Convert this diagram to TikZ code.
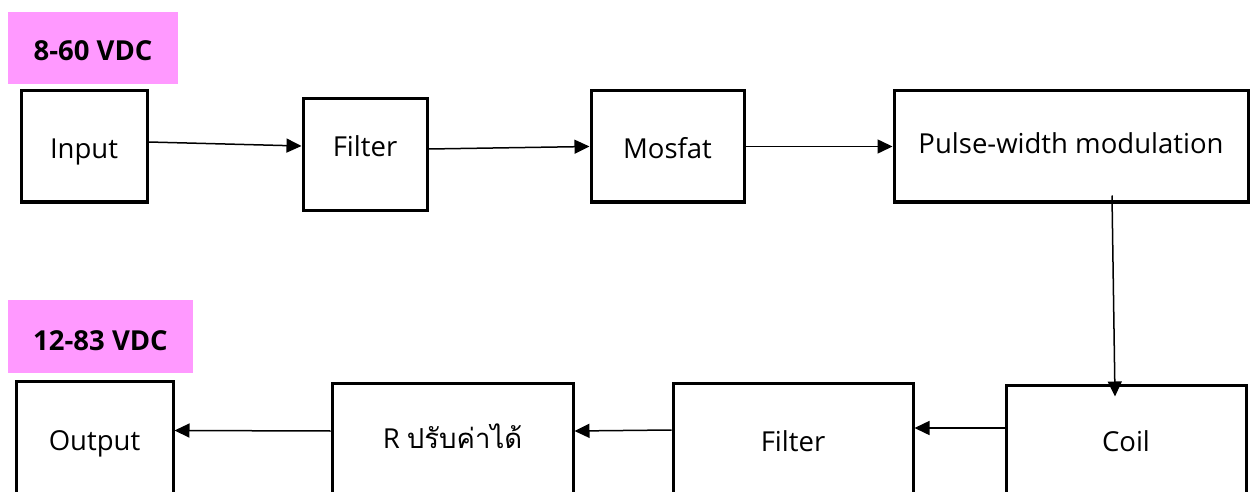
\documentclass[tikz,border=0pt]{standalone}
\usepackage{fontspec}
\setmainfont{Open Sans}
\newfontfamily\thaifont[Script=Thai]{Loma}
\usetikzlibrary{arrows.meta,calc}
\definecolor{pinkfill}{HTML}{FF99FF}
\tikzset{
  block/.style={draw=black, line width=3pt, inner sep=0pt, align=center,
    font=\fontsize{27.5}{30}\selectfont, text depth=0pt},
  volt/.style={fill=pinkfill, inner sep=0pt, text depth=0pt,
    font=\bfseries\fontsize{27.5}{30}\selectfont},
  base/.style={text height=#1},
  flow/.style={line width=1.5pt, -{Triangle[length=15pt,width=14pt]}}
}
\begin{document}
\begin{tikzpicture}[x=1pt,y=-1pt]
\useasboundingbox (0,0) rectangle (1251,492);
\clip (0,0) rectangle (1251,492);
\node[volt, base=26pt, minimum width=170pt, minimum height=72pt] (v1) at (93,48) {8-60 VDC};
\node[volt, base=27pt, minimum width=185pt, minimum height=73pt] (v2) at (100.5,336.5) {12-83 VDC};
\node[block, base=25pt, minimum width=126pt, minimum height=111pt] (in) at (84,146.5) {Input};
\node[block, base=5pt, minimum width=124pt, minimum height=111pt] (f1) at (365,154.5) {Filter};
\node[block, base=25pt, minimum width=153pt, minimum height=111pt] (mos) at (667.5,146.5) {Mosfat};
\node[block, base=15pt, minimum width=354pt, minimum height=111pt] (pwm) at (1071,146.5) {Pulse-width modulation};
\node[block, base=20pt, minimum width=157pt, minimum height=118pt] (out) at (94.5,440) {Output};
\node[block, base=14pt, minimum width=241pt, minimum height=116pt] (r) at (452.5,441) {R {\thaifont ปรับค่าได้}};
\node[block, base=20pt, minimum width=240pt, minimum height=116pt] (f2) at (793,441) {Filter};
\node[block, base=18pt, minimum width=240pt, minimum height=114pt] (coil) at (1126,442) {Coil};
\draw[flow] ([yshift=4.5pt]in.east) -- ([yshift=8.5pt]f1.west);
\draw[flow] ([yshift=5.5pt]f1.east) -- (mos.west);
\draw[flow] (mos.east) -- (pwm.west);
\draw[flow] ($(pwm.south)+(41,-8)$) -- ($(coil.north)+(-11,13)$);
\draw[flow] ([yshift=14pt]coil.west) -- ([yshift=13pt]f2.east);
\draw[flow] ([yshift=11pt]f2.west) -- ([yshift=10pt]r.east);
\draw[flow] ([yshift=10pt]r.west) -- ([yshift=9.5pt]out.east);
\end{tikzpicture}
\end{document}
